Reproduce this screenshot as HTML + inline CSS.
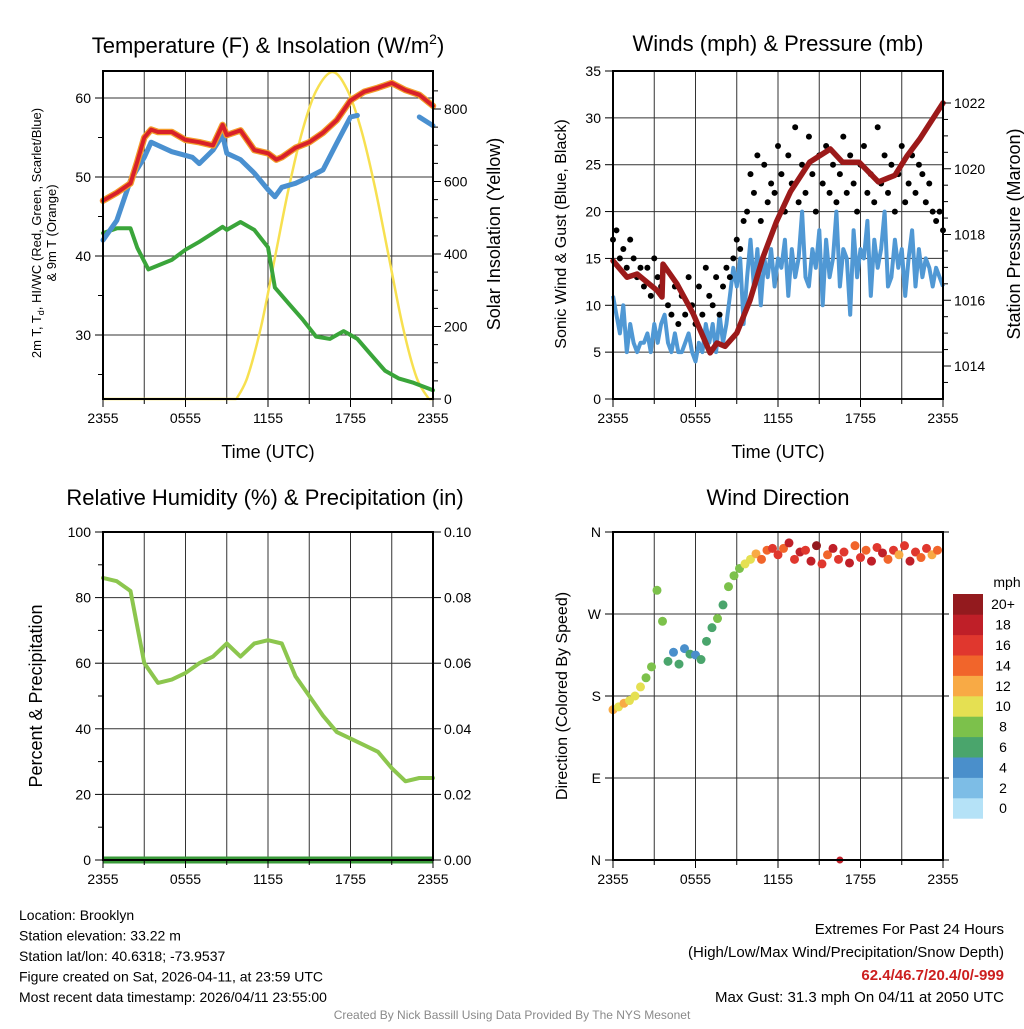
<!DOCTYPE html>
<html><head><meta charset="utf-8">
<style>
html,body{margin:0;padding:0;background:#fff;}
body{width:1024px;height:1024px;overflow:hidden;font-family:"Liberation Sans",sans-serif;}
svg text{font-family:"Liberation Sans",sans-serif;}
</style></head>
<body>
<svg id="chart" width="1024" height="1024" viewBox="0 0 1024 1024" xmlns="http://www.w3.org/2000/svg"></svg>
<script>
// ---------- data ----------
const timeTicks = ["2355","0555","1155","1755","2355"];
const tempHours = [0,1,2,2.5,3,3.5,4,5,6,7,8,8.7,9,10,11,12,12.6,13,14,15,16,17,18,19,20,21,22,23,24];
const tempT  = [47,48,49.2,52,55,56,55.7,55.7,54.7,54.4,54,56.6,55.3,55.9,53.4,53,52.2,52.5,53.7,54.4,55.6,57.2,59.7,60.8,61.3,61.9,61,60.4,59];
const wcHours = [0,1,2,3,3.5,4,5,6.5,7,8,8.7,9,10,11,12,12.5,13,14,15,16,17,18,18.5,18.6,22.9,23,24];
const tempWC = [42,44.5,49.6,52.5,54.4,54,53.2,52.5,51.7,53.4,55.3,53,52.2,50.5,48.4,47.5,48.7,49.2,50,50.9,54.3,57.6,57.8,null,null,57.6,56.5];
const tdHours = [0,1,2,2.5,3.3,5,6,7,8,8.7,9,10,11,12,12.5,13.5,14.5,15.5,16.5,17.5,18.5,19.5,20.5,21.5,22.5,24];
const tempTd = [42.9,43.5,43.5,41,38.3,39.5,40.8,41.8,42.9,43.7,43.3,44.3,43.3,41.1,36,34,32,29.8,29.5,30.5,29.5,27.5,25.5,24.5,24,23];
const solarHours = [0,9.7,10.5,11.5,12.5,13.5,14.5,15.5,16.7,17.8,18.8,19.8,20.8,21.8,22.8,23.7,24];
const solar  = [0,0,60,200,390,580,740,850,902,850,740,580,390,200,60,0,0];
const tempTickVals = [30,40,50,60];
const solarTickVals = [0,200,400,600,800];

const windStep = 0.25;
const gust = [17,18,15,16,14,17,15,13,14, 12,14,11,15,13,12,14, 10,9,12,8,11,9,13,10,8,12,9,14, 11,10,13,9,12,14,13, 15,17,16,19, 20,24,22,26,19,25,21,23,
 22,27,24,20,26,23,29,21,25,22,28,24,20,26,23,27,22,25,21,24,28,22,26,23,20,25,27,22,24,21,29,23,26,22,25,20,24,27,21,23,26,22,25,24,21,23,20,19,20,18];
const sonic = [11,9,7,10,5,8,6,5,6, 6,7,5,8,6,8,9, 6,5,7,5,5,6,7,5,4,6,5,8, 6,8,5,9,6,8,11, 14,12,15,8, 13,17,12,16,10,15,13,16,
 12,15,14,17,11,16,13,15,20,13,12,16,14,18,10,17,13,15,20,12,16,15,9,18,13,16,15,19,11,17,14,16,20,12,13,17,14,16,11,15,18,12,16,13,15,14,12,14,13,12];
const presHours = [0,1.02,1.75,3.2,3.56,3.64,4.65,5.82,7.06,7.56,8.15,9.0,9.96,10.9,11.9,12.9,14.3,15.8,16.7,17.9,19.3,20.5,21.4,22.3,24];
const pres = [1017.2,1016.7,1016.8,1016.3,1016.1,1017.1,1016.5,1015.6,1014.4,1014.7,1014.6,1015.0,1016.0,1017.3,1018.4,1019.3,1020.2,1020.6,1020.2,1020.2,1019.6,1019.8,1020.4,1020.9,1022.0];
const windTickVals = [0,5,10,15,20,25,30,35];
const presTickVals = [1014,1016,1018,1020,1022];

const rhHours = [0,1,2,3,4,5,6,7,8,9,10,11,12,13,14,15,16,17,18,19,20,21,22,23,24];
const rh = [86,85,82,60,54,55,57,60,62,66,62,66,67,66,56,50,44,39,37,35,33,28,24,25,25];
const precip = [0,0,0,0,0,0,0,0,0,0,0,0,0,0,0,0,0,0,0,0,0,0,0,0,0];
const rhTickVals = [0,20,40,60,80,100];
const precipTickLabels = ["0.00","0.02","0.04","0.06","0.08","0.10"];

const dirStep = 0.4;
const dirVals = [165,168,172,175,180, 190,200,212,296,262, 218,228,215,232,226, 225,220,240,255,265, 280,300,312,320,325,
 330,336,330,340,342, 335,342,348,330,338, 340,328,345,325,335, 342,330,338,326,345, 332,340,328,343,337, 330,340,335,345,328, 338,332,342,335,340];
const dirSpd = [11,10,12,9,10, 9,8,7,7,8, 5,4,5,4,5, 4,5,6,5,7, 6,7,8,8,9, 10,12,14,13,15, 16,14,17,15,18, 15,17,19,16,14,
 18,16,15,17,14, 16,13,17,15,18, 14,16,11,15,17, 15,13,16,12,14];
const dirOutlierT = [16.5];
const dirOutlierV = [0];
const dirOutlierS = [17];
const dirTickLabels = ["N","E","S","W","N"];
const speedBinLabels = ["0","2","4","6","8","10","12","14","16","18","20+"];
const speedBinColors = ["#b5e2f7","#7dbde6","#4a8fcb","#4aa56c","#7cc14b","#e5e052","#f8aa45","#f1652b","#e0372e","#bf1f28","#931a1e"];

// ---------- helpers ----------
const NS="http://www.w3.org/2000/svg";
const svg=document.getElementById('chart');
function el(tag,attrs,parent){const e=document.createElementNS(NS,tag);for(const k in attrs)e.setAttribute(k,attrs[k]);(parent||svg).appendChild(e);return e;}
function txt(s,attrs,parent){const e=el('text',attrs,parent);e.textContent=s;return e;}
function lin(d0,d1,r0,r1){return v=>r0+(v-d0)/(d1-d0)*(r1-r0);}
function pathFrom(xs,ys,fx,fy){let d='',pen=false;for(let i=0;i<xs.length;i++){if(ys[i]==null){pen=false;continue;}d+=(pen?'L':'M')+fx(xs[i]).toFixed(1)+','+fy(ys[i]).toFixed(1);pen=true;}return d;}
function smoothFrom(xs,ys,fx,fy){const p=xs.map((x,i)=>[fx(x),fy(ys[i])]);let d='M'+p[0][0].toFixed(1)+','+p[0][1].toFixed(1);
  for(let i=0;i<p.length-1;i++){const p0=p[i-1]||p[i],p1=p[i],p2=p[i+1],p3=p[i+2]||p2;
    const c1=[p1[0]+(p2[0]-p0[0])/6,p1[1]+(p2[1]-p0[1])/6],c2=[p2[0]-(p3[0]-p1[0])/6,p2[1]-(p3[1]-p1[1])/6];
    d+='C'+c1.map(v=>v.toFixed(1)).join(',')+' '+c2.map(v=>v.toFixed(1)).join(',')+' '+p2[0].toFixed(1)+','+p2[1].toFixed(1);}
  return d;}
function solarPath(xs,ys,fx,fy){
  // flat zero before sunrise / after sunset, smoothed daylight part
  let a=0;while(a<ys.length-1&&ys[a+1]===0)a++;
  let b=ys.length-1;while(b>0&&ys[b-1]===0)b--;
  let d=pathFrom(xs.slice(0,a+1),ys.slice(0,a+1),fx,fy);
  d+=smoothFrom(xs.slice(a,b+1),ys.slice(a,b+1),fx,fy);
  d+=pathFrom(xs.slice(b),ys.slice(b),fx,fy);
  return d;}

function frame(g,x0,y0,x1,y1){el('rect',{x:x0,y:y0,width:x1-x0,height:y1-y0,fill:'none',stroke:'#000','stroke-width':2},g);}
function vgrid(g,fx,y0,y1){for(let h=3;h<24;h+=3){el('line',{x1:fx(h),x2:fx(h),y1:y0,y2:y1,stroke:'#333','stroke-width':1},g);}}
function hline(g,x0,x1,y){el('line',{x1:x0,x2:x1,y1:y,y2:y,stroke:'#333','stroke-width':1},g);}
function xTicks(g,fx,y1){
  timeTicks.forEach((lab,i)=>{const x=fx(i*6);
    el('line',{x1:x,x2:x,y1:y1,y2:y1+8,stroke:'#000','stroke-width':1},g);
    const t=txt(lab,{x:x,y:y1+24,'font-size':14,'text-anchor':'middle'},g);
    
    
  });
  for(let h=3;h<24;h+=3){if(h%6)el('line',{x1:fx(h),x2:fx(h),y1:y1,y2:y1+5,stroke:'#000','stroke-width':1},g);}
}

// ---------- Panel 1 ----------
(function(){
  const g=el('g',{});
  
  
  const X0=103,X1=433,Y0=71,Y1=399;
  const fx=lin(0,24,X0,X1), fy=lin(60,50,98,177), fs=lin(0,800,399,109);
  tempTickVals.forEach(v=>hline(g,X0,X1,fy(v)));
  vgrid(g,fx,Y0,Y1);
  el('path',{d:solarPath(solarHours,solar,fx,fs),fill:'none',stroke:'#f7e050','stroke-width':2.5},g);
  el('path',{d:pathFrom(tdHours,tempTd,fx,fy),fill:'none',stroke:'#3aa53a','stroke-width':4,'stroke-linejoin':'round','stroke-linecap':'round'},g);
  el('path',{d:pathFrom(wcHours,tempWC,fx,fy),fill:'none',stroke:'#4a90d0','stroke-width':5,'stroke-linejoin':'round','stroke-linecap':'round'},g);
  el('path',{d:pathFrom(tempHours,tempT,fx,fy),fill:'none',stroke:'#f39c2a','stroke-width':6.5,'stroke-linejoin':'round','stroke-linecap':'round'},g);
  el('path',{d:pathFrom(tempHours,tempT,fx,fy),fill:'none',stroke:'#d8202a','stroke-width':4,'stroke-linejoin':'round','stroke-linecap':'round'},g);
  frame(g,X0,Y0,X1,Y1);
  tempTickVals.forEach(v=>{const y=fy(v);el('line',{x1:X0-8,x2:X0,y1:y,y2:y,stroke:'#000'},g);txt(String(v),{x:X0-12,y:y+5,'font-size':14,'text-anchor':'end'},g);});
  [25,35,45,55].forEach(v=>{el('line',{x1:X0-5,x2:X0,y1:fy(v),y2:fy(v),stroke:'#000'},g);});
  solarTickVals.forEach(v=>{const y=fs(v);el('line',{x1:X1,x2:X1+8,y1:y,y2:y,stroke:'#000'},g);txt(String(v),{x:X1+11,y:y+5,'font-size':14},g);});
  [50,100,150,250,300,350,450,500,550,650,700,750,850].forEach(v=>{el('line',{x1:X1,x2:X1+5,y1:fs(v),y2:fs(v),stroke:'#000'},g);});
  xTicks(g,fx,Y1);
  const t=txt('Temperature (F) & Insolation (W/m',{x:268,y:53,'font-size':22,'text-anchor':'middle'},g);
  const ts=el('tspan',{'font-size':14,dy:-9},t);ts.textContent='2';
  const ts2=el('tspan',{dy:9},t);ts2.textContent=')';
  
  txt('Time (UTC)',{x:268,y:458,'font-size':18,'text-anchor':'middle'},g);
  const yl=el('text',{transform:'translate(41,233) rotate(-90)','font-size':13,'text-anchor':'middle'},g);
  yl.innerHTML='2m T, T<tspan font-size="9" dy="3">d</tspan><tspan dy="-3">, HI/WC (Red, Green, Scarlet/Blue)</tspan>';
  
  txt('& 9m T (Orange)',{transform:'translate(56,233) rotate(-90)','font-size':13,'text-anchor':'middle'},g);
  txt('Solar Insolation (Yellow)',{transform:'translate(500,234) rotate(-90)','font-size':18,'text-anchor':'middle'},g);
})();

// ---------- Panel 2 ----------
(function(){
  const g=el('g',{});
  
  
  const X0=613,X1=943,Y0=71,Y1=399;
  const fx=lin(0,24,X0,X1), fy=lin(0,35,399,71), fp=lin(1014,1022,366,103);
  [5,10,15,20,25,30].forEach(v=>hline(g,X0,X1,fy(v)));
  vgrid(g,fx,Y0,Y1);
  const sT=sonic.map((v,i)=>i*windStep);
  el('path',{d:pathFrom(sT,sonic,fx,fy),fill:'none',stroke:'#5098d4','stroke-width':4,'stroke-linejoin':'round'},g);
  gust.forEach((v,i)=>{const c=el('circle',{cx:fx(i*windStep),cy:fy(v),r:3,fill:'#000'},g);
    
    });
  el('path',{d:pathFrom(presHours,pres,fx,fp),fill:'none',stroke:'#9c1a1a','stroke-width':5.5,'stroke-linejoin':'round','stroke-linecap':'round'},g);
  frame(g,X0,Y0,X1,Y1);
  windTickVals.forEach(v=>{const y=fy(v);el('line',{x1:X0-8,x2:X0,y1:y,y2:y,stroke:'#000'},g);txt(String(v),{x:X0-12,y:y+5,'font-size':14,'text-anchor':'end'},g);});
  presTickVals.forEach(v=>{const y=fp(v);el('line',{x1:X1,x2:X1+8,y1:y,y2:y,stroke:'#000'},g);txt(String(v),{x:X1+11,y:y+5,'font-size':14},g);});
  [1013.5,1014.5,1015,1015.5,1016.5,1017,1017.5,1018.5,1019,1019.5,1020.5,1021,1021.5].forEach(v=>{el('line',{x1:X1,x2:X1+5,y1:fp(v),y2:fp(v),stroke:'#000'},g);});
  xTicks(g,fx,Y1);
  txt('Winds (mph) & Pressure (mb)',{x:778,y:51,'font-size':22,'text-anchor':'middle'},g);
  txt('Time (UTC)',{x:778,y:458,'font-size':18,'text-anchor':'middle'},g);
  txt('Sonic Wind & Gust (Blue, Black)',{transform:'translate(566,234) rotate(-90)','font-size':16,'text-anchor':'middle'},g);
  txt('Station Pressure (Maroon)',{transform:'translate(1020,234) rotate(-90)','font-size':18,'text-anchor':'middle'},g);
})();

// ---------- Panel 3 ----------
(function(){
  const g=el('g',{});
  
  
  const X0=103,X1=433,Y0=532,Y1=860;
  const fx=lin(0,24,X0,X1), fy=lin(0,100,860,532), fp=lin(0,0.1,860,532);
  [20,40,60,80].forEach(v=>hline(g,X0,X1,fy(v)));
  vgrid(g,fx,Y0,Y1);
  el('path',{d:pathFrom(rhHours,rh,fx,fy),fill:'none',stroke:'#8cc64e','stroke-width':4,'stroke-linejoin':'round','stroke-linecap':'round'},g);
  el('path',{d:pathFrom(rhHours,precip,fx,fp),fill:'none',stroke:'#3a9a3a','stroke-width':7},g);
  frame(g,X0,Y0,X1,Y1);
  rhTickVals.forEach(v=>{const y=fy(v);el('line',{x1:X0-8,x2:X0,y1:y,y2:y,stroke:'#000'},g);txt(String(v),{x:X0-12,y:y+5,'font-size':14,'text-anchor':'end'},g);});
  [10,30,50,70,90].forEach(v=>{el('line',{x1:X0-5,x2:X0,y1:fy(v),y2:fy(v),stroke:'#000'},g);});
  precipTickLabels.forEach((lab,i)=>{const y=fy(i*20);el('line',{x1:X1,x2:X1+8,y1:y,y2:y,stroke:'#000'},g);txt(lab,{x:X1+11,y:y+5,'font-size':14},g);});
  xTicks(g,fx,Y1);
  txt('Relative Humidity (%) & Precipitation (in)',{x:265,y:505,'font-size':22,'text-anchor':'middle'},g);
  txt('Percent & Precipitation',{transform:'translate(42,696) rotate(-90)','font-size':18,'text-anchor':'middle'},g);
})();

// ---------- Panel 4 ----------
(function(){
  const g=el('g',{});
  
  
  const X0=613,X1=943,Y0=532,Y1=860;
  const fx=lin(0,24,X0,X1), fy=lin(0,360,860,532);
  [90,180,270].forEach(v=>hline(g,X0,X1,fy(v)));
  vgrid(g,fx,Y0,Y1);
  function col(s){let b=Math.min(10,Math.floor((s+1)/2));return speedBinColors[b];}
  dirVals.forEach((v,i)=>{const c=el('circle',{cx:fx(i*dirStep),cy:fy(v),r:4.5,fill:col(dirSpd[i])},g);
    
    });
  dirOutlierT.forEach((t,i)=>{const c=el('circle',{cx:fx(t),cy:fy(dirOutlierV[i]),r:3.5,fill:col(dirOutlierS[i])},g);
    
    });
  frame(g,X0,Y0,X1,Y1);
  dirTickLabels.forEach((lab,i)=>{const y=fy(i*90);el('line',{x1:X0-8,x2:X0,y1:y,y2:y,stroke:'#000'},g);txt(lab,{x:X0-12,y:y+5,'font-size':14,'text-anchor':'end'},g);});
  dirTickLabels.forEach((lab,i)=>{const y=fy(i*90);el('line',{x1:X1,x2:X1+6,y1:y,y2:y,stroke:'#000'},g);});
  xTicks(g,fx,Y1);
  txt('Wind Direction',{x:778,y:505,'font-size':22,'text-anchor':'middle'},g);
  txt('Direction (Colored By Speed)',{transform:'translate(567,696) rotate(-90)','font-size':16,'text-anchor':'middle'},g);
  const lg=el('g',{},g);
  
  
  const bh=20.4, bx=953, byTop=594;
  speedBinColors.forEach((c,i)=>{const y=byTop+(10-i)*bh;
    const r=el('rect',{x:bx,y:y,width:30,height:bh+0.3,fill:c},lg);
    
    
    txt(speedBinLabels[i],{x:1003,y:y+bh/2+5,'font-size':14,'text-anchor':'middle'},lg);});
  txt('mph',{x:1007,y:587,'font-size':14,'text-anchor':'middle'},lg);
})();

// ---------- Footer ----------
(function(){
  const g=el('g',{});
  
  
  ['Location: Brooklyn','Station elevation: 33.22 m','Station lat/lon: 40.6318; -73.9537','Figure created on Sat, 2026-04-11, at 23:59 UTC','Most recent data timestamp: 2026/04/11 23:55:00']
   .forEach((s,i)=>txt(s,{x:19,y:920+i*20.5,'font-size':14},g));
  txt('Extremes For Past 24 Hours',{x:1004,y:934,'font-size':15,'text-anchor':'end'},g);
  txt('(High/Low/Max Wind/Precipitation/Snow Depth)',{x:1004,y:957,'font-size':15,'text-anchor':'end'},g);
  txt('62.4/46.7/20.4/0/-999',{x:1004,y:980,'font-size':15,'text-anchor':'end','font-weight':'bold',style:'fill:#cc1f1f'},g);
  txt('Max Gust: 31.3 mph On 04/11 at 2050 UTC',{x:1004,y:1002,'font-size':15,'text-anchor':'end'},g);
  txt('Created By Nick Bassill Using Data Provided By The NYS Mesonet',{x:512,y:1019,'font-size':12,'text-anchor':'middle',style:'fill:#8a8a8a'},g);
})();
</script>
</body></html>
